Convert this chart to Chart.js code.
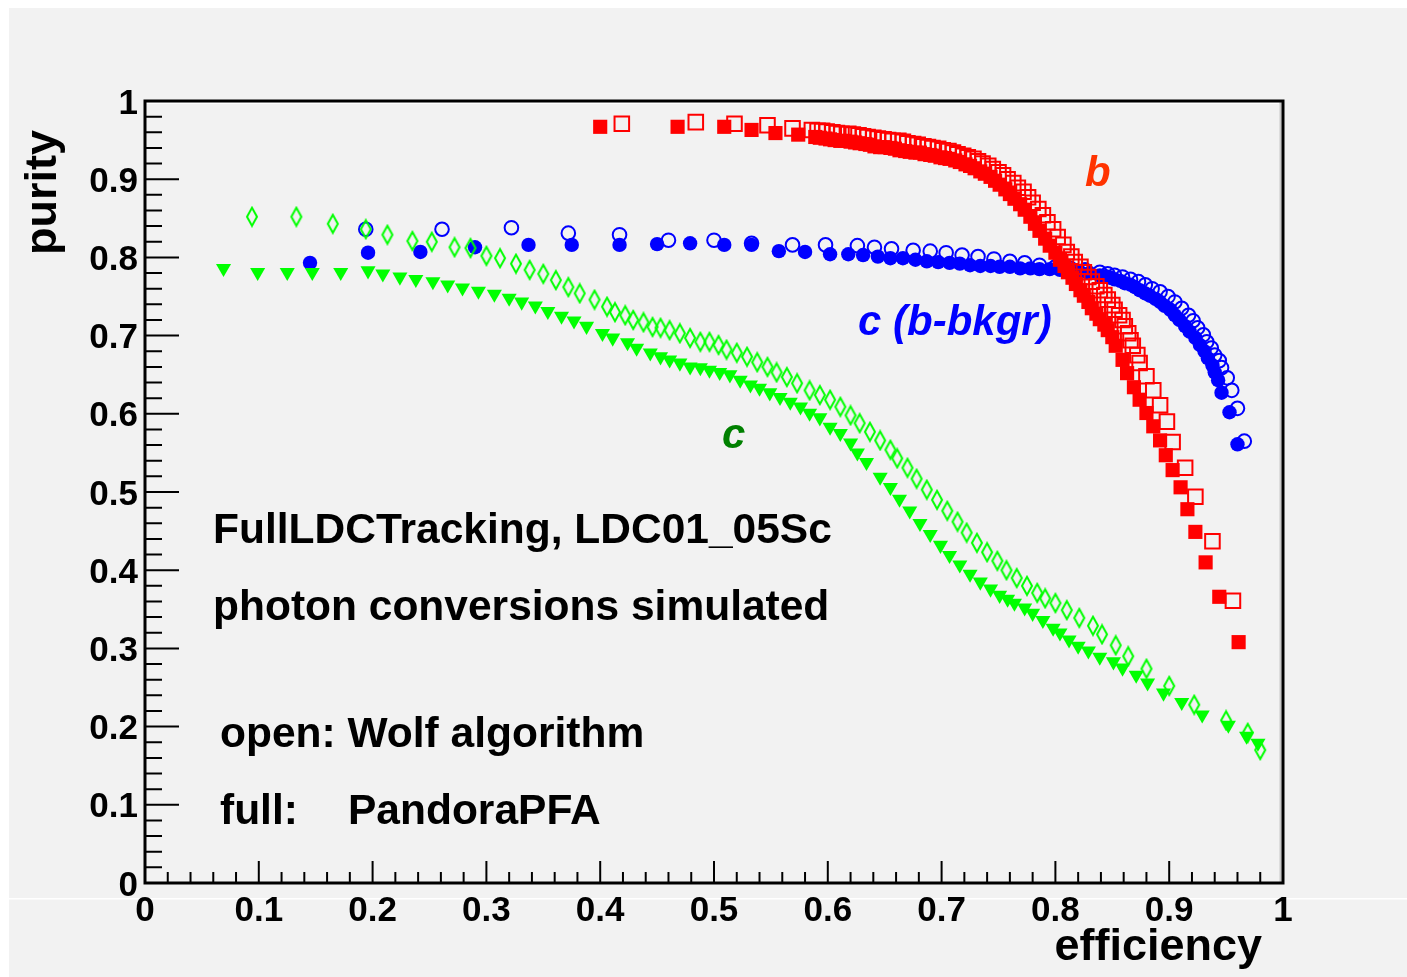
<!DOCTYPE html>
<html><head><meta charset="utf-8">
<script src="https://cdn.jsdelivr.net/npm/chart.js@4/dist/chart.umd.min.js"></script>
<style>
html,body{margin:0;padding:0;background:#fff;overflow:hidden;}
canvas{display:block;}
</style></head><body>
<canvas id="c" width="1407" height="977"></canvas>
<script>
// ---- tick labels ----
const xTickLabels = ['0','0.1','0.2','0.3','0.4','0.5','0.6','0.7','0.8','0.9','1'];
const yTickLabels = ['0','0.1','0.2','0.3','0.4','0.5','0.6','0.7','0.8','0.9','1'];

// ---- b-tagging, PandoraPFA (full squares) ----
const effBPandora = [0.400,0.468,0.509,0.533,0.554,0.574,0.589,0.593,0.598,0.602,0.606,0.611,0.615,0.620,0.624,0.628,0.633,0.637,0.641,0.646,0.650,0.655,0.659,0.663,0.668,0.672,0.677,0.681,0.685,0.690,0.694,0.699,0.703,0.707,0.712,0.716,0.721,0.725,0.729,0.734,0.738,0.743,0.747,0.751,0.756,0.760,0.764,0.769,0.773,0.778,0.782,0.786,0.791,0.795,0.800,0.804,0.808,0.811,0.815,0.818,0.822,0.825,0.829,0.832,0.836,0.839,0.843,0.846,0.850,0.853,0.859,0.863,0.869,0.874,0.880,0.886,0.892,0.897,0.903,0.910,0.916,0.923,0.932,0.944,0.961];
const purBPandora = [0.967,0.967,0.967,0.963,0.959,0.957,0.954,0.953,0.952,0.951,0.950,0.949,0.949,0.948,0.947,0.946,0.945,0.944,0.942,0.941,0.941,0.940,0.939,0.937,0.936,0.935,0.934,0.934,0.932,0.931,0.930,0.928,0.927,0.926,0.924,0.922,0.919,0.917,0.914,0.910,0.907,0.903,0.898,0.893,0.887,0.881,0.875,0.868,0.861,0.852,0.843,0.834,0.824,0.815,0.806,0.797,0.789,0.781,0.774,0.766,0.758,0.751,0.743,0.735,0.728,0.721,0.714,0.707,0.698,0.687,0.669,0.652,0.634,0.618,0.601,0.584,0.566,0.547,0.528,0.506,0.478,0.449,0.410,0.366,0.308];

// ---- b-tagging, Wolf (open squares) ----
const effBWolf = [0.419,0.484,0.518,0.547,0.569,0.586,0.591,0.595,0.599,0.604,0.608,0.612,0.618,0.622,0.627,0.631,0.635,0.640,0.644,0.649,0.653,0.657,0.662,0.666,0.670,0.675,0.679,0.684,0.688,0.692,0.697,0.701,0.706,0.710,0.714,0.719,0.723,0.728,0.732,0.736,0.741,0.745,0.750,0.754,0.758,0.763,0.767,0.772,0.776,0.780,0.785,0.789,0.793,0.798,0.802,0.807,0.810,0.814,0.817,0.822,0.825,0.829,0.832,0.836,0.839,0.843,0.846,0.850,0.852,0.856,0.859,0.861,0.864,0.866,0.868,0.872,0.874,0.880,0.886,0.892,0.898,0.903,0.914,0.923,0.938,0.956];
const purBWolf = [0.971,0.973,0.971,0.969,0.965,0.963,0.962,0.962,0.961,0.960,0.959,0.958,0.958,0.957,0.956,0.955,0.954,0.953,0.952,0.951,0.950,0.949,0.949,0.948,0.946,0.945,0.944,0.942,0.941,0.940,0.939,0.937,0.936,0.934,0.932,0.930,0.928,0.926,0.923,0.920,0.917,0.913,0.909,0.905,0.900,0.895,0.889,0.884,0.877,0.870,0.862,0.854,0.845,0.836,0.826,0.816,0.807,0.801,0.794,0.788,0.781,0.775,0.769,0.763,0.758,0.752,0.746,0.739,0.733,0.726,0.720,0.712,0.703,0.694,0.687,0.675,0.665,0.648,0.630,0.611,0.590,0.564,0.531,0.494,0.437,0.361];

// ---- c-tagging with b background, PandoraPFA (full circles) ----
const effCbPandora = [0.145,0.196,0.242,0.290,0.337,0.375,0.417,0.450,0.479,0.509,0.533,0.557,0.580,0.602,0.618,0.631,0.644,0.655,0.666,0.677,0.687,0.697,0.707,0.716,0.725,0.734,0.743,0.751,0.760,0.769,0.778,0.786,0.795,0.804,0.813,0.822,0.830,0.839,0.844,0.848,0.852,0.857,0.861,0.866,0.870,0.874,0.879,0.883,0.888,0.892,0.896,0.901,0.905,0.909,0.914,0.918,0.923,0.927,0.931,0.934,0.938,0.940,0.943,0.946,0.953,0.960];
const purCbPandora = [0.793,0.806,0.807,0.813,0.816,0.816,0.816,0.817,0.818,0.816,0.816,0.808,0.807,0.804,0.804,0.803,0.801,0.799,0.799,0.797,0.795,0.794,0.793,0.792,0.790,0.789,0.789,0.788,0.788,0.786,0.786,0.785,0.785,0.784,0.783,0.781,0.780,0.777,0.776,0.774,0.772,0.770,0.767,0.765,0.762,0.758,0.754,0.751,0.747,0.743,0.738,0.733,0.726,0.720,0.712,0.705,0.697,0.688,0.680,0.671,0.662,0.653,0.643,0.627,0.602,0.561];

// ---- c-tagging with b background, Wolf (open circles) ----
const effCbWolf = [0.194,0.261,0.322,0.372,0.417,0.460,0.500,0.533,0.569,0.598,0.626,0.641,0.656,0.675,0.690,0.704,0.718,0.732,0.746,0.760,0.773,0.786,0.800,0.813,0.826,0.839,0.846,0.852,0.859,0.866,0.873,0.879,0.885,0.892,0.899,0.905,0.911,0.917,0.921,0.925,0.930,0.933,0.937,0.940,0.944,0.946,0.951,0.955,0.960,0.966];
const purCbWolf = [0.836,0.836,0.838,0.831,0.829,0.822,0.822,0.818,0.816,0.816,0.815,0.813,0.811,0.809,0.808,0.806,0.803,0.801,0.798,0.795,0.793,0.790,0.788,0.786,0.784,0.781,0.779,0.777,0.775,0.772,0.769,0.765,0.760,0.756,0.750,0.743,0.735,0.726,0.719,0.710,0.701,0.692,0.684,0.675,0.668,0.659,0.646,0.630,0.607,0.565];

// ---- c-tagging, PandoraPFA (full triangles) ----
const effCPandora = [0.069,0.099,0.125,0.147,0.172,0.196,0.209,0.224,0.238,0.253,0.266,0.279,0.293,0.307,0.320,0.331,0.343,0.354,0.366,0.377,0.388,0.402,0.411,0.424,0.432,0.444,0.453,0.461,0.470,0.479,0.488,0.496,0.505,0.514,0.523,0.532,0.540,0.549,0.558,0.567,0.576,0.584,0.593,0.602,0.611,0.620,0.626,0.634,0.646,0.655,0.663,0.672,0.681,0.690,0.699,0.707,0.716,0.725,0.734,0.743,0.751,0.758,0.764,0.773,0.780,0.789,0.798,0.804,0.812,0.820,0.829,0.839,0.851,0.859,0.871,0.881,0.895,0.911,0.929,0.952,0.968,0.978];
const purCPandora = [0.786,0.781,0.781,0.781,0.781,0.783,0.779,0.775,0.772,0.769,0.765,0.761,0.757,0.753,0.748,0.743,0.738,0.731,0.725,0.719,0.712,0.703,0.697,0.691,0.684,0.678,0.673,0.669,0.665,0.660,0.659,0.656,0.653,0.650,0.643,0.637,0.633,0.627,0.621,0.615,0.609,0.601,0.595,0.583,0.575,0.563,0.550,0.538,0.519,0.506,0.491,0.476,0.460,0.446,0.432,0.419,0.407,0.395,0.385,0.376,0.368,0.363,0.358,0.352,0.345,0.336,0.326,0.320,0.311,0.303,0.297,0.289,0.283,0.275,0.266,0.256,0.243,0.231,0.215,0.202,0.188,0.179];

// ---- c-tagging, Wolf (open diamonds) ----
const effCWolf = [0.094,0.133,0.165,0.194,0.213,0.235,0.252,0.272,0.286,0.300,0.312,0.326,0.338,0.350,0.361,0.372,0.382,0.395,0.406,0.413,0.422,0.429,0.438,0.446,0.453,0.461,0.470,0.479,0.488,0.496,0.504,0.511,0.520,0.529,0.538,0.547,0.555,0.564,0.573,0.584,0.593,0.602,0.611,0.620,0.628,0.637,0.646,0.655,0.661,0.670,0.678,0.687,0.696,0.705,0.714,0.722,0.731,0.740,0.749,0.757,0.766,0.775,0.784,0.791,0.800,0.810,0.821,0.833,0.841,0.853,0.864,0.880,0.900,0.922,0.950,0.969,0.980];
const purCWolf = [0.852,0.852,0.843,0.836,0.829,0.821,0.820,0.813,0.812,0.802,0.799,0.792,0.784,0.779,0.771,0.762,0.754,0.746,0.737,0.730,0.726,0.720,0.717,0.711,0.710,0.707,0.703,0.697,0.692,0.692,0.688,0.682,0.678,0.673,0.666,0.660,0.653,0.647,0.639,0.630,0.624,0.618,0.609,0.598,0.588,0.577,0.566,0.554,0.543,0.531,0.517,0.503,0.490,0.476,0.462,0.448,0.435,0.423,0.412,0.400,0.390,0.380,0.371,0.364,0.358,0.349,0.339,0.329,0.318,0.304,0.290,0.274,0.252,0.228,0.208,0.192,0.170];

function pts(xs, ys){ return xs.map((x,i)=>({x:x, y:ys[i]})); }

// open diamond marker (ROOT style 27)
function makeDiamond(color){
  const c = document.createElement('canvas');
  c.width = 14; c.height = 22;
  const g = c.getContext('2d');
  g.strokeStyle = color; g.lineWidth = 2;
  g.beginPath();
  g.moveTo(7,2); g.lineTo(12,11); g.lineTo(7,20); g.lineTo(2,11); g.closePath();
  g.stroke();
  return c;
}
const diamond = makeDiamond('#00ff00');

const FONT = '"Liberation Sans", Arial, Helvetica, sans-serif';
const PL = 145, PR = 1283, PT = 101, PB = 883;

const rootPlugin = {
  id: 'rootStyle',
  beforeDraw(chart){
    const g = chart.ctx;
    g.save();
    g.fillStyle = '#ffffff'; g.fillRect(0,0,1407,977);
    g.fillStyle = '#f2f2f2'; g.fillRect(9,8,1398,969);
    g.fillStyle = '#ffffff'; g.fillRect(0,898,1407,1.5);
    g.restore();
  },
  beforeDatasetsDraw(chart){
    const g = chart.ctx, xs = chart.scales.x, ys = chart.scales.y;
    const a = chart.chartArea;
    g.save();
    g.strokeStyle = '#000'; g.lineWidth = 2;
    g.beginPath();
    for (let i = 0; i <= 50; i++){
      const v = i/50;
      const px = xs.getPixelForValue(v);
      const len = (i % 5 === 0) ? 22 : 11;
      g.moveTo(px, a.bottom); g.lineTo(px, a.bottom - len);
      const py = ys.getPixelForValue(v);
      const leny = (i % 5 === 0) ? 34 : 17;
      g.moveTo(a.left, py); g.lineTo(a.left + leny, py);
    }
    g.stroke();
    // frame shading
    g.fillStyle = '#c8c8c8'; g.fillRect(a.right - 3.5, a.top + 1, 2, a.bottom - a.top - 1);
    g.fillStyle = '#ffffff'; g.fillRect(a.left + 1, a.top + 1.5, a.right - a.left - 5, 1.5);
    // frame
    g.strokeStyle = '#000'; g.lineWidth = 3;
    g.strokeRect(a.left, a.top, a.right - a.left, a.bottom - a.top);
    g.restore();
  },
  afterDatasetsDraw(chart){
    const g = chart.ctx;
    g.save();
    g.textAlign = 'left'; g.textBaseline = 'alphabetic';
    g.fillStyle = '#000';
    g.font = 'bold 42.5px ' + FONT;
    g.fillText('FullLDCTracking, LDC01_05Sc', 213, 543);
    g.fillText('photon conversions simulated', 213, 620);
    g.fillText('open: Wolf algorithm', 220, 747);
    g.fillText('full:', 220, 824);
    g.fillText('PandoraPFA', 348, 824);
    g.font = 'italic bold 42px ' + FONT;
    g.fillStyle = '#ff3300'; g.fillText('b', 1085, 186);
    g.fillStyle = '#0000ff'; g.fillText('c (b-bkgr)', 858, 335);
    g.fillStyle = '#008000'; g.fillText('c', 722, 448);
    // axis titles
    g.fillStyle = '#000';
    g.font = 'bold 45px ' + FONT;
    g.textAlign = 'right';
    g.fillText('efficiency', 1262, 960);
    g.translate(56, 130);
    g.rotate(-Math.PI/2);
    g.fillText('purity', 0, 0);
    g.restore();
  }
};

const ctx = document.getElementById('c').getContext('2d');
new Chart(ctx, {
  type: 'scatter',
  data: {
    datasets: [
      { label:'b PandoraPFA', data: pts(effBPandora, purBPandora), order:1,
        pointStyle:'rect', pointRadius:10, backgroundColor:'#ff0000', borderWidth:0 },
      { label:'b Wolf', data: pts(effBWolf, purBWolf), order:2,
        pointStyle:'rect', pointRadius:10.3, backgroundColor:'rgba(0,0,0,0)', borderColor:'#ff0000', borderWidth:2 },
      { label:'c Wolf', data: pts(effCWolf, purCWolf), order:3,
        pointStyle: diamond, pointRadius:9 },
      { label:'c PandoraPFA', data: pts(effCPandora, purCPandora), order:4,
        pointStyle:'triangle', rotation:180, pointRadius:8.7, backgroundColor:'#00ff00', borderWidth:0 },
      { label:'c(b) PandoraPFA', data: pts(effCbPandora, purCbPandora), order:5,
        pointStyle:'circle', pointRadius:7.2, backgroundColor:'#0000ff', borderWidth:0 },
      { label:'c(b) Wolf', data: pts(effCbWolf, purCbWolf), order:6,
        pointStyle:'circle', pointRadius:6.8, backgroundColor:'rgba(0,0,0,0)', borderColor:'#0000ff', borderWidth:2 }
    ]
  },
  options: {
    responsive:false, animation:false, devicePixelRatio:1,
    events: [],
    layout: { padding: { left:0, top:PT, right:1407-PR, bottom:0 } },
    plugins: { legend:{display:false}, tooltip:{enabled:false}, title:{display:false} },
    scales: {
      x: {
        type:'linear', min:0, max:1,
        afterFit(s){ s.height = 977 - PB; },
        grid:{ display:false, drawTicks:false }, border:{ display:false },
        ticks:{ stepSize:0.1, autoSkip:false, maxRotation:0, padding:7, color:'#000',
          font:{ family:FONT, weight:'bold', size:35 },
          callback:(v,i)=> xTickLabels[i] }
      },
      y: {
        type:'linear', min:0, max:1,
        afterFit(s){ s.width = PL; },
        grid:{ display:false, drawTicks:false }, border:{ display:false },
        ticks:{ stepSize:0.1, autoSkip:false, padding:7, labelOffset:3, color:'#000',
          font:{ family:FONT, weight:'bold', size:35 },
          callback:(v,i)=> yTickLabels[i] }
      }
    }
  },
  plugins: [rootPlugin]
});
</script>
</body></html>
